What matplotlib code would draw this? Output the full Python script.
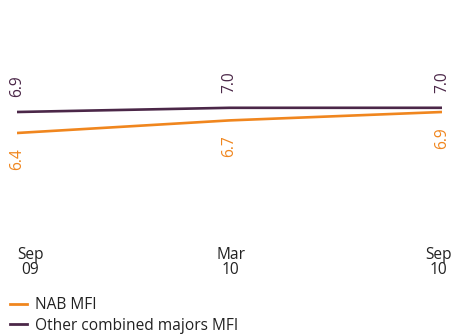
import matplotlib.pyplot as plt
from matplotlib.lines import Line2D

plt.rcParams['font.family'] = ['Open Sans', 'DejaVu Sans']

periods = ['Sep\n09', 'Mar\n10', 'Sep\n10']
nab_mfi = [6.4, 6.7, 6.9]
majors_mfi = [6.9, 7.0, 7.0]

orange = '#f0861e'
purple = '#4b2748'
text_col = '#222222'
W, H = 453, 334
fs = 11.2

fig = plt.figure(figsize=(W / 100, H / 100), dpi=100)
# axes placed in pixel terms: x from 17 to 442, y from 20 to 240 (top-down)
ax = fig.add_axes([17 / W, 1 - 240 / H, (442 - 17) / W, 220 / H])
x = list(range(len(periods)))

ax.plot(x, majors_mfi, color=purple, lw=1.9, solid_capstyle='butt')
ax.plot(x, nab_mfi, color=orange, lw=1.9, solid_capstyle='butt')
ax.set_xlim(0, len(periods) - 1)
ax.set_ylim(6.9 - 128 / 42, 6.9 + 92 / 42)
ax.axis('off')

for xi, v in zip(x, majors_mfi):
    ax.annotate(f'{v:.1f}', (xi, v), xytext=(0, 11), textcoords='offset points',
                rotation=90, ha='center', va='bottom', color=purple, fontsize=fs)
for xi, v in zip(x, nab_mfi):
    ax.annotate(f'{v:.1f}', (xi, v), xytext=(0, -11), textcoords='offset points',
                rotation=90, ha='center', va='top', color=orange, fontsize=fs)

# period labels under the lines, the outer ones pulled inside the frame
aligns = ['left', 'center', 'right']
shifts = [0, 1, 7]
for xi, lab, ha, dx in zip(x, periods, aligns, shifts):
    ax.annotate(lab, (xi, 0), xycoords=ax.get_xaxis_transform(),
                xytext=(dx, -5), textcoords='offset points', ha=ha, va='top',
                multialignment='center', linespacing=0.95,
                fontsize=fs, color=text_col)

handles = [Line2D([], [], color=orange, lw=2),
           Line2D([], [], color=purple, lw=2)]
fig.legend(handles, ['NAB MFI', 'Other combined majors MFI'],
           loc='upper left', bbox_to_anchor=(10 / W, 1 - 297 / H),
           frameon=False, fontsize=fs, handlelength=1.1, handletextpad=0.5,
           labelspacing=0.3, borderaxespad=0, borderpad=0,
           labelcolor=text_col)

fig.savefig('out.png', dpi=100)
